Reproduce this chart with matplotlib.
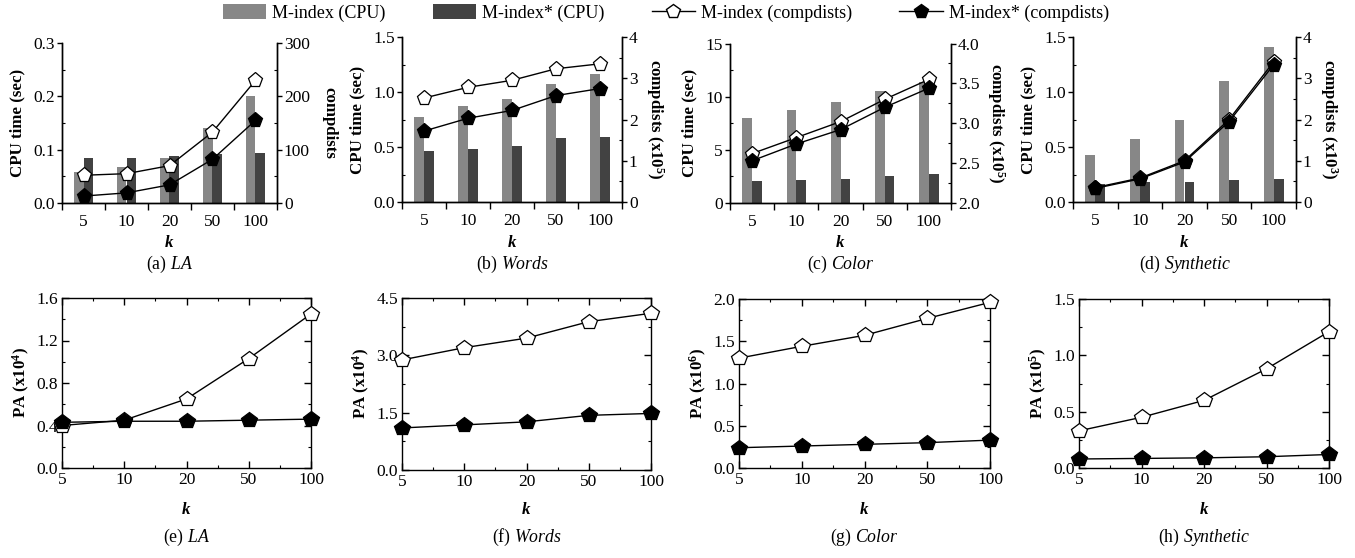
import matplotlib
matplotlib.use('Agg')
import matplotlib.pyplot as plt
from matplotlib.patches import Patch
from matplotlib.lines import Line2D
from matplotlib.ticker import MultipleLocator, FormatStrFormatter
import numpy as np

plt.rcParams['font.family'] = ['Liberation Serif', 'DejaVu Serif']
plt.rcParams['mathtext.fontset'] = 'custom'
plt.rcParams['mathtext.rm'] = 'Liberation Serif'
plt.rcParams['mathtext.it'] = 'Liberation Serif:italic'
plt.rcParams['mathtext.bf'] = 'Liberation Serif:bold'
plt.rcParams['axes.linewidth'] = 1.0

# ---- data ----
k_labels = ['5', '10', '20', '50', '100']

# CPU time (sec)
la_cpu_mindex = [0.058, 0.068, 0.085, 0.140, 0.200]
la_cpu_mstar = [0.084, 0.084, 0.088, 0.092, 0.094]
words_cpu_mindex = [0.77, 0.87, 0.94, 1.07, 1.16]
words_cpu_mstar = [0.46, 0.48, 0.51, 0.58, 0.59]
color_cpu_mindex = [8.0, 8.7, 9.5, 10.5, 11.4]
color_cpu_mstar = [2.1, 2.2, 2.3, 2.5, 2.7]
syn_cpu_mindex = [0.43, 0.57, 0.75, 1.10, 1.41]
syn_cpu_mstar = [0.16, 0.18, 0.18, 0.20, 0.21]

# compdists
la_cd_mindex = [52, 55, 70, 133, 230]
la_cd_mstar = [13, 19, 34, 82, 155]
words_cd_mindex = [2.52, 2.78, 2.95, 3.23, 3.35]      # x10^5
words_cd_mstar = [1.72, 2.03, 2.22, 2.58, 2.75]
color_cd_mindex = [2.62, 2.82, 3.02, 3.30, 3.55]      # x10^5
color_cd_mstar = [2.53, 2.74, 2.92, 3.20, 3.44]
syn_cd_mindex = [0.35, 0.58, 1.00, 2.00, 3.40]        # x10^3
syn_cd_mstar = [0.33, 0.56, 0.97, 1.95, 3.33]

# PA
la_pa_mindex = [0.40, 0.45, 0.65, 1.03, 1.45]         # x10^4
la_pa_mstar = [0.43, 0.44, 0.44, 0.45, 0.46]
words_pa_mindex = [2.88, 3.20, 3.45, 3.88, 4.10]      # x10^4
words_pa_mstar = [1.10, 1.18, 1.26, 1.43, 1.48]
color_pa_mindex = [1.30, 1.44, 1.57, 1.77, 1.96]      # x10^6
color_pa_mstar = [0.24, 0.26, 0.28, 0.30, 0.33]
syn_pa_mindex = [0.33, 0.45, 0.60, 0.88, 1.21]        # x10^5
syn_pa_mstar = [0.08, 0.085, 0.09, 0.10, 0.12]

LIGHT = '#878787'
DARK = '#424242'
W, H = 1355, 558
TICK_FS = 12.5
LABEL_FS = 12.2
CAP_FS = 12.8

fig = plt.figure(figsize=(W / 100, H / 100), dpi=100)


def px_axes(left, top, right, bottom):
    return fig.add_axes([left / W, 1 - bottom / H, (right - left) / W, (bottom - top) / H])


def caption(ax, letter, name, y_px):
    bb = ax.get_position()
    cx = (bb.x0 + bb.x1) / 2
    fig.text(cx, 1 - y_px / H, '(%s) $\\mathit{%s}$' % (letter, name),
             ha='center', va='center', fontsize=CAP_FS)


def k_label(ax, y_px):
    bb = ax.get_position()
    cx = (bb.x0 + bb.x1) / 2
    fig.text(cx, 1 - y_px / H, 'k', ha='center', va='center', fontsize=LABEL_FS,
             fontweight='bold', fontstyle='italic')


def cpu_panel(rect, cpu_a, cpu_b, cd_a, cd_b, lim_l, step_l, fmt_l,
              lim_r, step_r, fmt_r, rlabel, letter, name):
    ax = px_axes(*rect)
    x = np.arange(len(k_labels))
    w = 0.22
    ax.bar(x - w / 2, cpu_a, w, color=LIGHT, zorder=2)
    ax.bar(x + w / 2, cpu_b, w, color=DARK, zorder=2)
    ax.set_xlim(-0.5, len(k_labels) - 0.5)
    ax.set_ylim(*lim_l)
    ax.spines['top'].set_visible(False)
    ax.yaxis.set_major_locator(MultipleLocator(step_l))
    ax.yaxis.set_minor_locator(MultipleLocator(step_l / 2))
    ax.yaxis.set_major_formatter(FormatStrFormatter(fmt_l))
    ax.set_xticks(np.arange(-0.5, len(k_labels), 1))
    ax.set_xticklabels([])
    ax.set_xticks(x, minor=True)
    ax.set_xticklabels(k_labels, minor=True)
    ax.tick_params(axis='x', which='major', direction='out', length=5, width=1)
    ax.tick_params(axis='x', which='minor', length=0, pad=8, labelsize=TICK_FS)
    ax.tick_params(axis='y', which='major', direction='out', length=3.5, width=1,
                   labelsize=TICK_FS, pad=1.5)
    ax.tick_params(axis='y', which='minor', direction='in', length=2.5, width=0.8)
    ax.set_ylabel('CPU time (sec)', fontsize=LABEL_FS, fontweight='bold', labelpad=6)

    ax2 = ax.twinx()
    ax2.spines['top'].set_visible(False)
    ax2.plot(x, cd_a, '-', color='black', lw=1, marker='p', ms=11,
             mfc='white', mec='black', mew=0.9, zorder=3)
    ax2.plot(x, cd_b, '-', color='black', lw=1, marker='p', ms=11,
             mfc='black', mec='black', mew=0.9, zorder=4)
    ax2.set_ylim(*lim_r)
    ax2.yaxis.set_major_locator(MultipleLocator(step_r))
    ax2.yaxis.set_minor_locator(MultipleLocator(step_r / 2))
    ax2.yaxis.set_major_formatter(FormatStrFormatter(fmt_r))
    ax2.tick_params(axis='y', which='major', direction='out', length=3.5, width=1,
                    labelsize=TICK_FS, pad=1.5)
    ax2.tick_params(axis='y', which='minor', direction='in', length=2.5, width=0.8)
    ax2.set_ylabel(rlabel, fontsize=LABEL_FS, fontweight='bold', rotation=270,
                   labelpad=20)
    k_label(ax, 243)
    caption(ax, letter, name, 264)
    return ax


def pa_panel(rect, pa_a, pa_b, lim, step, fmt, ylabel, letter, name):
    ax = px_axes(*rect)
    x = np.arange(len(k_labels))
    ax.plot(x, pa_a, '-', color='black', lw=1, marker='p', ms=11.5,
            mfc='white', mec='black', mew=0.9, zorder=3, clip_on=False)
    ax.plot(x, pa_b, '-', color='black', lw=1, marker='p', ms=11.5,
            mfc='black', mec='black', mew=0.9, zorder=4, clip_on=False)
    ax.set_xlim(0, len(k_labels) - 1)
    ax.set_ylim(*lim)
    ax.set_xticks(x)
    ax.set_xticklabels(k_labels)
    ax.xaxis.set_minor_locator(MultipleLocator(0.5))
    ax.yaxis.set_major_locator(MultipleLocator(step))
    ax.yaxis.set_minor_locator(MultipleLocator(step / 2))
    ax.yaxis.set_major_formatter(FormatStrFormatter(fmt))
    ax.tick_params(which='both', direction='in', top=True, right=True)
    ax.tick_params(which='major', length=5, width=1, labelsize=TICK_FS, pad=3)
    ax.tick_params(which='minor', length=2.5, width=0.8)
    ax.set_ylabel(ylabel, fontsize=LABEL_FS, fontweight='bold', labelpad=3)
    k_label(ax, 510)
    caption(ax, letter, name, 537)
    return ax


cpu_panel((62, 43, 277, 203), la_cpu_mindex, la_cpu_mstar, la_cd_mindex, la_cd_mstar,
          (0, 0.3), 0.1, '%.1f', (0, 300), 100, '%d', 'compdists', 'a', 'LA')
cpu_panel((402, 37, 622, 202), words_cpu_mindex, words_cpu_mstar, words_cd_mindex,
          words_cd_mstar, (0, 1.5), 0.5, '%.1f', (0, 4), 1, '%d',
          'compdists (x10$^\\mathbf{5}$)', 'b', 'Words')
cpu_panel((730, 43.5, 951, 203), color_cpu_mindex, color_cpu_mstar, color_cd_mindex,
          color_cd_mstar, (0, 15), 5, '%d', (2.0, 4.0), 0.5, '%.1f',
          'compdists (x10$^\\mathbf{5}$)', 'c', 'Color')
cpu_panel((1073, 37, 1296, 202), syn_cpu_mindex, syn_cpu_mstar, syn_cd_mindex,
          syn_cd_mstar, (0, 1.5), 0.5, '%.1f', (0, 4), 1, '%d',
          'compdists (x10$^\\mathbf{3}$)', 'd', 'Synthetic')

pa_panel((62, 298, 311, 468), la_pa_mindex, la_pa_mstar, (0, 1.6), 0.4, '%.1f',
         'PA (x10$^\\mathbf{4}$)', 'e', 'LA')
pa_panel((402, 298, 651, 470), words_pa_mindex, words_pa_mstar, (0, 4.5), 1.5, '%.1f',
         'PA (x10$^\\mathbf{4}$)', 'f', 'Words')
pa_panel((739, 299, 990, 468), color_pa_mindex, color_pa_mstar, (0, 2.0), 0.5, '%.1f',
         'PA (x10$^\\mathbf{6}$)', 'g', 'Color')
pa_panel((1079, 299, 1329, 468), syn_pa_mindex, syn_pa_mstar, (0, 1.5), 0.5, '%.1f',
         'PA (x10$^\\mathbf{5}$)', 'h', 'Synthetic')

handles = [
    Patch(facecolor=LIGHT, edgecolor='none'),
    Patch(facecolor=DARK, edgecolor='none'),
    Line2D([], [], color='black', lw=1, marker='p', ms=10, mfc='white', mec='black'),
    Line2D([], [], color='black', lw=1, marker='p', ms=10, mfc='black', mec='black'),
]
labels = ['M-index (CPU)', 'M-index* (CPU)', 'M-index (compdists)', 'M-index* (compdists)']
fig.legend(handles, labels, loc='center', bbox_to_anchor=(666 / W, 1 - 13 / H), ncol=4,
           frameon=False, fontsize=13.0, handlelength=2.4, handleheight=0.9,
           handletextpad=0.35, columnspacing=2.6)

fig.savefig('out.png', dpi=100)
